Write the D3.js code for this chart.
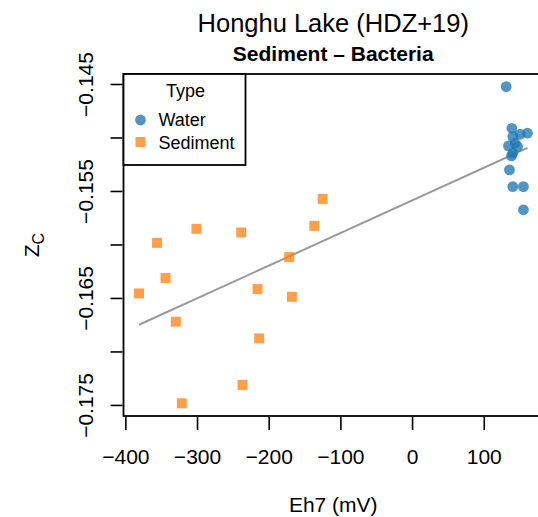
<!DOCTYPE html>
<html>
<head>
<meta charset="utf-8">
<script src="https://cdn.jsdelivr.net/npm/d3@7"></script>
<style>
  body { margin: 0; background: #fff; }
  svg text { font-family: "Liberation Sans", Arial, Helvetica, sans-serif; fill: #000; }
</style>
</head>
<body>
<div id="chart"></div>
<script>
// values
var waterEh7 = [131.3, 139.2, 161.0, 150.8, 140.6, 134.5, 143.9, 147.1, 140.6, 138.7, 135.9, 140.6, 155.4, 155.4];
var waterZc = [-0.14525, -0.14914, -0.14960, -0.14970, -0.14992, -0.15079, -0.15054, -0.15085, -0.15147, -0.15172, -0.15303, -0.15459, -0.15459, -0.15676];
var sedEh7 = [-380.9, -355.7, -343.9, -329.6, -321.2, -300.8, -238.3, -236.5, -215.6, -213.3, -171.4, -167.6, -136.4, -124.7];
var sedZc = [-0.16458, -0.15985, -0.16314, -0.16722, -0.17485, -0.15854, -0.15888, -0.17313, -0.16417, -0.16878, -0.16118, -0.16489, -0.15826, -0.15574];

var xTicks = [-400, -300, -200, -100, 0, 100];
var yTicks = [-0.145, -0.150, -0.155, -0.160, -0.165, -0.170, -0.175];
var yTickLabels = ["\u22120.145", "", "\u22120.155", "", "\u22120.165", "", "\u22120.175"];
var legendTypes = ["Water", "Sediment"];

var blue = "rgba(31,119,180,0.78)", orange = "rgba(255,127,14,0.75)";

var water = waterEh7.map(function(d, i) { return {x: d, y: waterZc[i]}; });
var sediment = sedEh7.map(function(d, i) { return {x: d, y: sedZc[i]}; });
var all = water.concat(sediment);

var W = 538, H = 517;
var pL = 123.5, pR = 543, pT = 74, pB = 416;

// R style 4% padding on the data range
function padded(ext) { var r = ext[1] - ext[0]; return [ext[0] - 0.04 * r, ext[1] + 0.04 * r]; }
var xExt = d3.extent(all, function(d) { return d.x; });
var yExt = d3.extent(all, function(d) { return d.y; });

var x = d3.scaleLinear().domain(padded(xExt)).range([pL, pR]);
var y = d3.scaleLinear().domain(padded(yExt)).range([pB, pT]);

var svg = d3.select("#chart").append("svg")
            .attr("width", W)
            .attr("height", H);

// least squares fit over all samples
var mx = d3.mean(all, function(d) { return d.x; });
var my = d3.mean(all, function(d) { return d.y; });
var slope = d3.sum(all, function(d) { return (d.x - mx) * (d.y - my); }) /
            d3.sum(all, function(d) { return (d.x - mx) * (d.x - mx); });
var icpt = my - slope * mx;

svg.append("line")
   .attr("x1", x(xExt[0])).attr("y1", y(icpt + slope * xExt[0]))
   .attr("x2", x(xExt[1])).attr("y2", y(icpt + slope * xExt[1]))
   .attr("stroke", "#999").attr("stroke-width", 2);

svg.selectAll("rect.sed")
   .data(sediment)
   .enter()
   .append("rect")
   .attr("class", "sed")
   .attr("x", function(d) { return x(d.x) - 5; })
   .attr("y", function(d) { return y(d.y) - 5; })
   .attr("width", 10).attr("height", 10)
   .attr("fill", orange);

svg.selectAll("circle.water")
   .data(water)
   .enter()
   .append("circle")
   .attr("class", "water")
   .attr("cx", function(d) { return x(d.x); })
   .attr("cy", function(d) { return y(d.y); })
   .attr("r", 5.4)
   .attr("fill", blue);

// box
svg.append("rect")
   .attr("x", pL).attr("y", pT)
   .attr("width", pR - pL).attr("height", pB - pT)
   .attr("fill", "none").attr("stroke", "#000").attr("stroke-width", 1.8);

// axes
var xAxis = svg.append("g")
               .attr("transform", "translate(0," + (pB + 1) + ")")
               .call(d3.axisBottom(x).tickValues(xTicks).tickSize(13)
                       .tickFormat(function(d) { return d < 0 ? "\u2212" + Math.abs(d) : d; }));
xAxis.select(".domain").remove();
xAxis.selectAll("line").attr("stroke-width", 1.6);
xAxis.selectAll("text")
     .attr("y", 46.5).attr("dy", 0)
     .style("font-size", "21px");

var yAxis = svg.append("g")
               .attr("transform", "translate(" + (pL - 1) + ",0)")
               .call(d3.axisLeft(y).tickValues(yTicks).tickSize(12)
                       .tickFormat(function(d, i) { return yTickLabels[i]; }));
yAxis.select(".domain").remove();
yAxis.selectAll("line").attr("stroke-width", 1.6);
yAxis.selectAll("text")
     .attr("x", 0).attr("dy", 0)
     .attr("text-anchor", "middle")
     .attr("transform", "translate(-29.5,0) rotate(-90)")
     .style("font-size", "21px");

// titles
var cx = (pL + pR) / 2;
svg.append("text").attr("x", cx).attr("y", 32).attr("text-anchor", "middle")
   .style("font-size", "25.5px").text("Honghu Lake (HDZ+19)");
svg.append("text").attr("x", cx).attr("y", 61).attr("text-anchor", "middle")
   .style("font-size", "21px").style("font-weight", "bold").text("Sediment \u2013 Bacteria");
svg.append("text").attr("x", cx).attr("y", 512).attr("text-anchor", "middle")
   .style("font-size", "21px").text("Eh7 (mV)");

var zt = svg.append("text")
            .attr("transform", "translate(39," + ((pT + pB) / 2) + ") rotate(-90)")
            .attr("text-anchor", "middle")
            .style("font-size", "21px");
zt.append("tspan").text("Z");
zt.append("tspan").attr("dy", 5).style("font-size", "16px").text("C");

// legend
var lg = svg.append("g");
lg.append("rect")
  .attr("x", pL).attr("y", pT).attr("width", 122).attr("height", 91)
  .attr("fill", "#fff").attr("stroke", "#000").attr("stroke-width", 1.8);
lg.append("text").attr("x", pL + 62).attr("y", pT + 23).attr("text-anchor", "middle")
  .style("font-size", "18px").text("Type");
lg.append("circle").attr("cx", pL + 17).attr("cy", pT + 46).attr("r", 5.4).attr("fill", blue);
lg.append("rect").attr("x", pL + 12).attr("y", pT + 63).attr("width", 10).attr("height", 10).attr("fill", orange);
lg.selectAll("text.item")
  .data(legendTypes)
  .enter()
  .append("text")
  .attr("class", "item")
  .attr("x", pL + 35)
  .attr("y", function(d, i) { return pT + 52 + i * 22.5; })
  .style("font-size", "18px")
  .text(function(d) { return d; });
</script>
</body>
</html>
